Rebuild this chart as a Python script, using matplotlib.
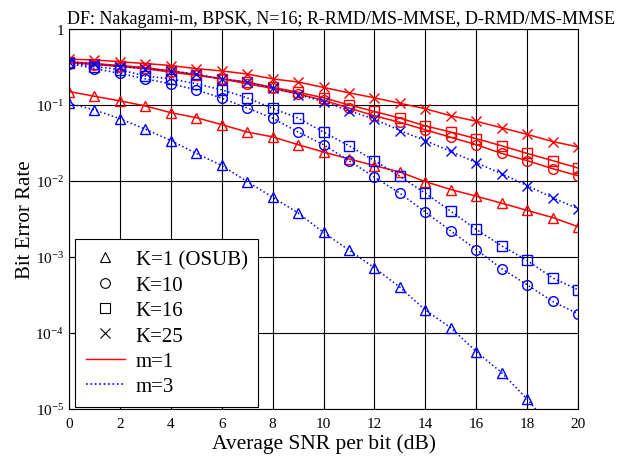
import numpy as np
import matplotlib.pyplot as plt
from matplotlib.lines import Line2D
from matplotlib.ticker import FuncFormatter

plt.rcParams['font.family'] = ['Liberation Serif', 'DejaVu Serif']
plt.rcParams['mathtext.fontset'] = 'stix'

snr = np.arange(0, 21)

# m=1 (red solid)
ber_m1_k1 = [0.15, 0.13, 0.113, 0.097, 0.079, 0.068, 0.055, 0.044, 0.038, 0.030, 0.024,
             0.0195, 0.0159, 0.0131, 0.0098, 0.0077, 0.0063, 0.0051, 0.0041, 0.0033, 0.0025]
ber_m1_k10 = [0.36, 0.34, 0.32, 0.30, 0.27, 0.245, 0.22, 0.19, 0.165, 0.14, 0.115,
              0.091, 0.072, 0.059, 0.047, 0.0375, 0.030, 0.023, 0.0185, 0.0145, 0.0117]
ber_m1_k16 = [0.37, 0.35, 0.33, 0.31, 0.28, 0.25, 0.22, 0.20, 0.17, 0.147, 0.124,
              0.10, 0.082, 0.067, 0.053, 0.044, 0.036, 0.029, 0.023, 0.0185, 0.0148]
ber_m1_k25 = [0.40, 0.39, 0.37, 0.35, 0.33, 0.30, 0.28, 0.255, 0.22, 0.20, 0.17,
              0.144, 0.124, 0.105, 0.089, 0.072, 0.061, 0.050, 0.041, 0.033, 0.028]

# m=3 (blue dotted)
ber_m3_k1 = [0.105, 0.086, 0.066, 0.048, 0.034, 0.023, 0.016, 0.0098, 0.0061, 0.0038, 0.0021,
             0.00123, 0.00072, 0.00040, 0.00020, 0.000117, 5.7e-5, 3.0e-5, 1.35e-5, 5.5e-6, 2.0e-6]
ber_m3_k10 = [0.35, 0.30, 0.26, 0.22, 0.19, 0.158, 0.123, 0.091, 0.067, 0.044, 0.030,
              0.0185, 0.0112, 0.0069, 0.0039, 0.0022, 0.00125, 0.00070, 0.00043, 0.00026, 0.000178]
ber_m3_k16 = [0.36, 0.32, 0.29, 0.24, 0.22, 0.19, 0.158, 0.124, 0.090, 0.067, 0.044,
              0.029, 0.0185, 0.0115, 0.0069, 0.0040, 0.0023, 0.0014, 0.00090, 0.00053, 0.00037]
ber_m3_k25 = [0.37, 0.35, 0.32, 0.30, 0.28, 0.255, 0.22, 0.20, 0.166, 0.137, 0.11,
              0.084, 0.065, 0.046, 0.034, 0.0245, 0.0174, 0.0124, 0.0087, 0.0060, 0.0043]

markers = ['^', 'o', 's', 'x']
k_labels = ['K=1 (OSUB)', 'K=10', 'K=16', 'K=25']
m1 = [ber_m1_k1, ber_m1_k10, ber_m1_k16, ber_m1_k25]
m3 = [ber_m3_k1, ber_m3_k10, ber_m3_k16, ber_m3_k25]

fig = plt.figure(figsize=(6.43, 4.6), dpi=100)
ax = fig.add_axes([0.1073, 0.1087, 0.7917, 0.8263])

for mk, y in zip(markers, m1):
    ax.semilogy(snr, y, color='red', linestyle='-', linewidth=1.1, marker=mk,
                markersize=7, markerfacecolor='none', markeredgecolor='red', markeredgewidth=1.0)
for mk, y in zip(markers, m3):
    ax.semilogy(snr, y, color='blue', linestyle=':', linewidth=1.1, marker=mk,
                markersize=7, markerfacecolor='none', markeredgecolor='blue', markeredgewidth=1.0)

ax.set_xlim(0, 20)
ax.set_ylim(1e-5, 1)
ax.set_xticks(np.arange(0, 21, 2))
ax.set_yticks([1e-5, 1e-4, 1e-3, 1e-2, 1e-1, 1])
ax.minorticks_off()
ax.yaxis.set_major_formatter(FuncFormatter(
    lambda v, p: '1' if v >= 1 else r'$\mathregular{10^{%d}}$' % round(np.log10(v))))
ax.grid(True, which='major', color='black', linewidth=0.8)
ax.tick_params(direction='in', labelsize=11, length=4)
ax.tick_params(axis='x', pad=6)
for s in ax.spines.values():
    s.set_linewidth(0.8)

ax.set_xlabel('Average SNR per bit (dB)', fontsize=15.5, labelpad=2)
ax.set_ylabel('Bit Error Rate', fontsize=15, labelpad=0)
ax.set_title('DF: Nakagami-m, BPSK, N=16; R-RMD/MS-MMSE, D-RMD/MS-MMSE', fontsize=13,
             pad=4, loc='left', x=-0.004)

handles = [Line2D([], [], linestyle='none', marker=mk, color='black', markerfacecolor='none',
                  markersize=7, markeredgewidth=0.8) for mk in markers]
handles += [Line2D([], [], color='red', linestyle='-', linewidth=1.0),
            Line2D([], [], color='blue', linestyle=':', linewidth=1.2)]
labels = k_labels + ['m=1', 'm=3']
leg = ax.legend(handles, labels, loc='lower left', fontsize=15, frameon=True, fancybox=False,
                edgecolor='black', framealpha=1, handlelength=1.9, handletextpad=0.5,
                labelspacing=0.28, borderpad=0.5, borderaxespad=0.1,
                bbox_to_anchor=(0.008, 0.0))
leg.get_frame().set_linewidth(0.8)

fig.savefig('out.png', dpi=100)
